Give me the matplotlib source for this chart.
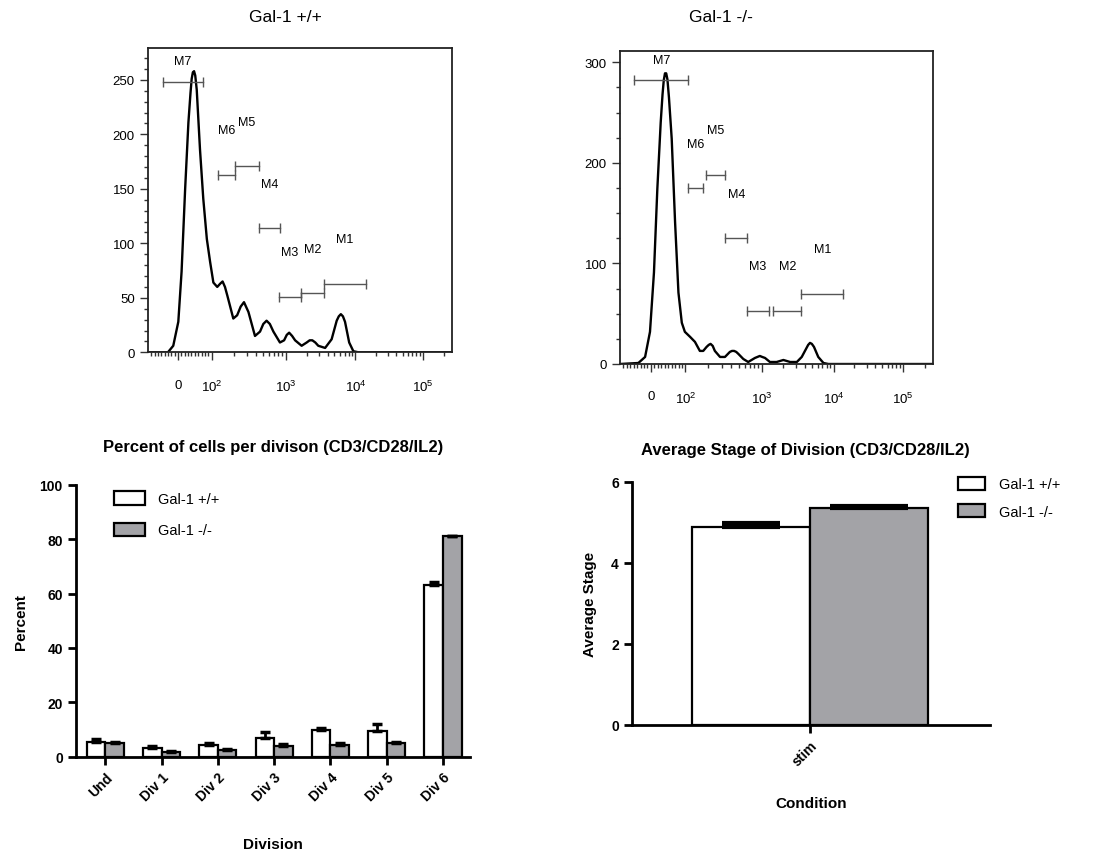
import matplotlib
matplotlib.use('Agg')
import matplotlib.pyplot as plt
import numpy as np
from matplotlib.ticker import MultipleLocator, FixedLocator

plt.rcParams['font.family'] = ['Liberation Sans', 'DejaVu Sans']
plt.rcParams['mathtext.fontset'] = 'custom'
plt.rcParams['mathtext.rm'] = 'Liberation Sans'
plt.rcParams['mathtext.it'] = 'Liberation Sans'

# ---- flow histograms (x = channel 0-1023, y = counts) ----
wt_ch = [0, 67, 85, 102, 113, 125, 136, 143, 147, 151, 155, 159, 164, 175, 186, 198, 209, 220,
         233, 243, 251, 259, 267, 287, 300, 312, 323, 338, 360, 377, 388, 399, 410, 422, 444,
         458, 467, 475, 485, 495, 517, 534, 544, 553, 563, 573, 596, 618, 635, 642, 649, 656,
         663, 677, 691, 708, 1023]
wt_counts = [0, 0, 6, 28, 74, 150, 211, 238, 251, 257, 258, 254, 241, 186, 141, 104, 83, 64,
             60, 63, 65, 60, 52, 31, 34, 42, 46, 37, 15, 19, 26, 29, 26, 19, 9,
             11, 16, 18, 15, 11, 6, 9, 11, 11, 9, 6, 4, 12, 29, 33, 35, 33,
             28, 9, 1, 0, 0]

ko_ch = [0, 60, 82, 98, 111, 122, 133, 139, 143, 147, 151, 155, 160, 169, 180, 191, 202, 212,
         229, 245, 261, 272, 283, 290, 296, 303, 310, 327, 343, 359, 366, 373, 380, 387, 403,
         419, 441, 449, 457, 465, 474, 490, 512, 534, 556, 578, 594, 608, 615, 621, 627, 634,
         648, 665, 681, 1023]
ko_counts = [0, 1, 7, 32, 91, 174, 240, 268, 282, 289, 289, 283, 265, 224, 141, 71, 41, 32,
             27, 22, 13, 13, 17, 19, 20, 18, 13, 7, 7, 12, 13, 13, 12, 10, 5,
             2, 6, 7, 8, 7, 6, 2, 2, 4, 2, 2, 7, 15, 19, 21, 20, 17,
             7, 1, 0, 0]

gate_names = ['M1', 'M2', 'M3', 'M4', 'M5', 'M6', 'M7']
wt_gate_lo = [593, 515, 441, 372, 294, 235, 50]
wt_gate_hi = [732, 593, 515, 445, 372, 294, 185]
wt_gate_y = [63, 54, 51, 114, 171, 163, 248]
ko_gate_lo = [592, 501, 414, 344, 280, 223, 47]
ko_gate_hi = [730, 592, 488, 416, 344, 272, 223]
ko_gate_y = [70, 53, 53, 125, 188, 175, 282]

tick_ch = [101, 214, 463, 698, 925]
tick_labels = ['0', r'$10^2$', r'$10^3$', r'$10^4$', r'$10^5$']

# ---- bar charts ----
divisions = ['Und', 'Div 1', 'Div 2', 'Div 3', 'Div 4', 'Div 5', 'Div 6']
wt_pct = [5.5, 3.1, 4.3, 7.0, 9.8, 9.4, 63.2]
wt_pct_err = [1.1, 0.8, 0.7, 1.9, 0.9, 2.5, 1.1]
ko_pct = [4.9, 1.8, 2.4, 3.9, 4.3, 4.9, 81.0]
ko_pct_err = [0.6, 0.3, 0.3, 0.6, 0.6, 0.6, 0.2]

conditions = ['stim']
wt_stage = [4.89]
wt_stage_err = [0.08]
ko_stage = [5.36]
ko_stage_err = [0.05]

gray = '#a3a3a7'

fig = plt.figure(figsize=(10.95, 8.53), dpi=100)


def hist_panel(rect, ch, counts, lo, hi, gy, ymax, ymajor, yminor):
    ax = fig.add_axes(rect)
    ax.plot(ch, counts, color='black', lw=1.7, solid_joinstyle='round')
    for name, a, b, y in zip(gate_names, lo, hi, gy):
        ax.plot([a, b], [y, y], color='#555555', lw=1.0, marker='|', ms=7, mew=1.0)
        off = 15 if name == 'M7' else 32
        ax.annotate(name, ((a + b) / 2, y), xytext=(0, off), textcoords='offset points',
                    ha='center', va='center', fontsize=9)
    ax.set_xlim(0, 1023)
    ax.set_ylim(0, ymax)
    ax.xaxis.set_major_locator(FixedLocator(tick_ch))
    ax.set_xticklabels(tick_labels)
    minors = [101 + k * 11.3 for k in range(-8, 10) if k != 0]
    decades = [(214, 463), (463, 698), (698, 925), (925, 1160)]
    for s, e in decades:
        for m in range(2, 10):
            p = s + (e - s) * np.log10(m)
            if p < 1023:
                minors.append(p)
    ax.xaxis.set_minor_locator(FixedLocator(minors))
    ax.yaxis.set_major_locator(MultipleLocator(ymajor))
    ax.yaxis.set_minor_locator(MultipleLocator(yminor))
    ax.tick_params(axis='both', which='major', length=6, width=1, labelsize=9.5, color='#333333')
    ax.tick_params(axis='both', which='minor', length=3, width=1, color='#333333')
    ax.tick_params(axis='x', which='major', pad=13)
    for s in ax.spines.values():
        s.set_linewidth(1.3)
        s.set_color('#222222')
    return ax


hist_panel([148 / 1095, 1 - 353.3 / 853, 304 / 1095, 304 / 853],
           wt_ch, wt_counts, wt_gate_lo, wt_gate_hi, wt_gate_y, 279, 50, 10)
hist_panel([620 / 1095, 1 - 365 / 853, 313 / 1095, 313.3 / 853],
           ko_ch, ko_counts, ko_gate_lo, ko_gate_hi, ko_gate_y, 311.5, 100, 25)
fig.text(285 / 1095, 1 - 18 / 853, 'Gal-1 +/+', ha='center', va='center', fontsize=12.5)
fig.text(721 / 1095, 1 - 18 / 853, 'Gal-1 -/-', ha='center', va='center', fontsize=12.5)


def style_bar_axes(ax):
    for side in ['top', 'right']:
        ax.spines[side].set_visible(False)
    for side in ['left', 'bottom']:
        ax.spines[side].set_linewidth(2)
    ax.tick_params(axis='both', length=6, width=2, labelsize=10)
    for lab in ax.get_xticklabels() + ax.get_yticklabels():
        lab.set_fontweight('bold')


# ---- percent per division ----
ax3 = fig.add_axes([76 / 1095, 1 - 757.7 / 853, 394 / 1095, 272 / 853])
x = np.arange(len(divisions))
w = 0.33
ax3.bar(x, wt_pct, width=-w, align='edge', color='white', edgecolor='black', lw=1.6,
        label='Gal-1 +/+', zorder=2)
ax3.bar(x, ko_pct, width=w, align='edge', color=gray, edgecolor='black', lw=1.6,
        label='Gal-1 -/-', zorder=2)
ax3.errorbar(x - w / 2, wt_pct, yerr=[np.zeros(len(x)), wt_pct_err], fmt='none',
             ecolor='black', elinewidth=2, capsize=3.5, capthick=2.5, zorder=3)
ax3.errorbar(x + w / 2, ko_pct, yerr=[np.zeros(len(x)), ko_pct_err], fmt='none',
             ecolor='black', elinewidth=2, capsize=3.5, capthick=2.5, zorder=3)
ax3.set_xlim(-0.52, 6.48)
ax3.set_ylim(0, 100)
ax3.set_yticks([0, 20, 40, 60, 80, 100])
ax3.set_xticks(x)
ax3.set_xticklabels(divisions, rotation=45, ha='right', rotation_mode='anchor')
style_bar_axes(ax3)
ax3.set_ylabel('Percent', fontsize=11, fontweight='bold', labelpad=8)
ax3.set_xlabel('Division', fontsize=11, fontweight='bold', labelpad=24)
ax3.set_title('Percent of cells per divison (CD3/CD28/IL2)', fontsize=12, fontweight='bold',
              x=(273 - 76) / 394, y=1.0, pad=24)
ax3.legend(loc='upper left', bbox_to_anchor=(114 / 1095, 1 - 492 / 853),
           bbox_transform=fig.transFigure, frameon=False, fontsize=10.5, borderpad=0,
           handlelength=2.1, handleheight=1.05, labelspacing=1.15, handletextpad=0.95,
           borderaxespad=0)

# ---- average stage ----
ax4 = fig.add_axes([632 / 1095, 1 - 726 / 853, 358 / 1095, 243.3 / 853])
xc = np.arange(len(conditions))
w2 = 0.33
ax4.bar(xc, wt_stage, width=-w2, align='edge', color='white', edgecolor='black', lw=1.6,
        label='Gal-1 +/+', zorder=2)
ax4.bar(xc, ko_stage, width=w2, align='edge', color=gray, edgecolor='black', lw=1.6,
        label='Gal-1 -/-', zorder=2)
ax4.errorbar(xc - w2 / 2, wt_stage, yerr=[[0], wt_stage_err], fmt='none', ecolor='black',
             elinewidth=2, capsize=21, capthick=3, zorder=3)
ax4.errorbar(xc + w2 / 2, ko_stage, yerr=[[0], ko_stage_err], fmt='none', ecolor='black',
             elinewidth=2, capsize=28, capthick=3, zorder=3)
ax4.set_xlim(-0.497, 0.503)
ax4.set_ylim(0, 6)
ax4.set_yticks([0, 2, 4, 6])
ax4.set_xticks(xc)
ax4.set_xticklabels(conditions, rotation=45, ha='right', rotation_mode='anchor')
style_bar_axes(ax4)
ax4.set_ylabel('Average Stage', fontsize=11, fontweight='bold', labelpad=10)
ax4.set_xlabel('Condition', fontsize=11, fontweight='bold', labelpad=20)
ax4.set_title('Average Stage of Division (CD3/CD28/IL2)', fontsize=12, fontweight='bold',
              x=(805 - 632) / 358, y=1.0, pad=20)
ax4.legend(loc='upper left', bbox_to_anchor=(958 / 1095, 1 - 478 / 853),
           bbox_transform=fig.transFigure, frameon=False, fontsize=10.5, borderpad=0,
           handlelength=1.85, handleheight=0.95, labelspacing=0.9, handletextpad=0.95,
           borderaxespad=0)

fig.savefig('out.png', dpi=100)
